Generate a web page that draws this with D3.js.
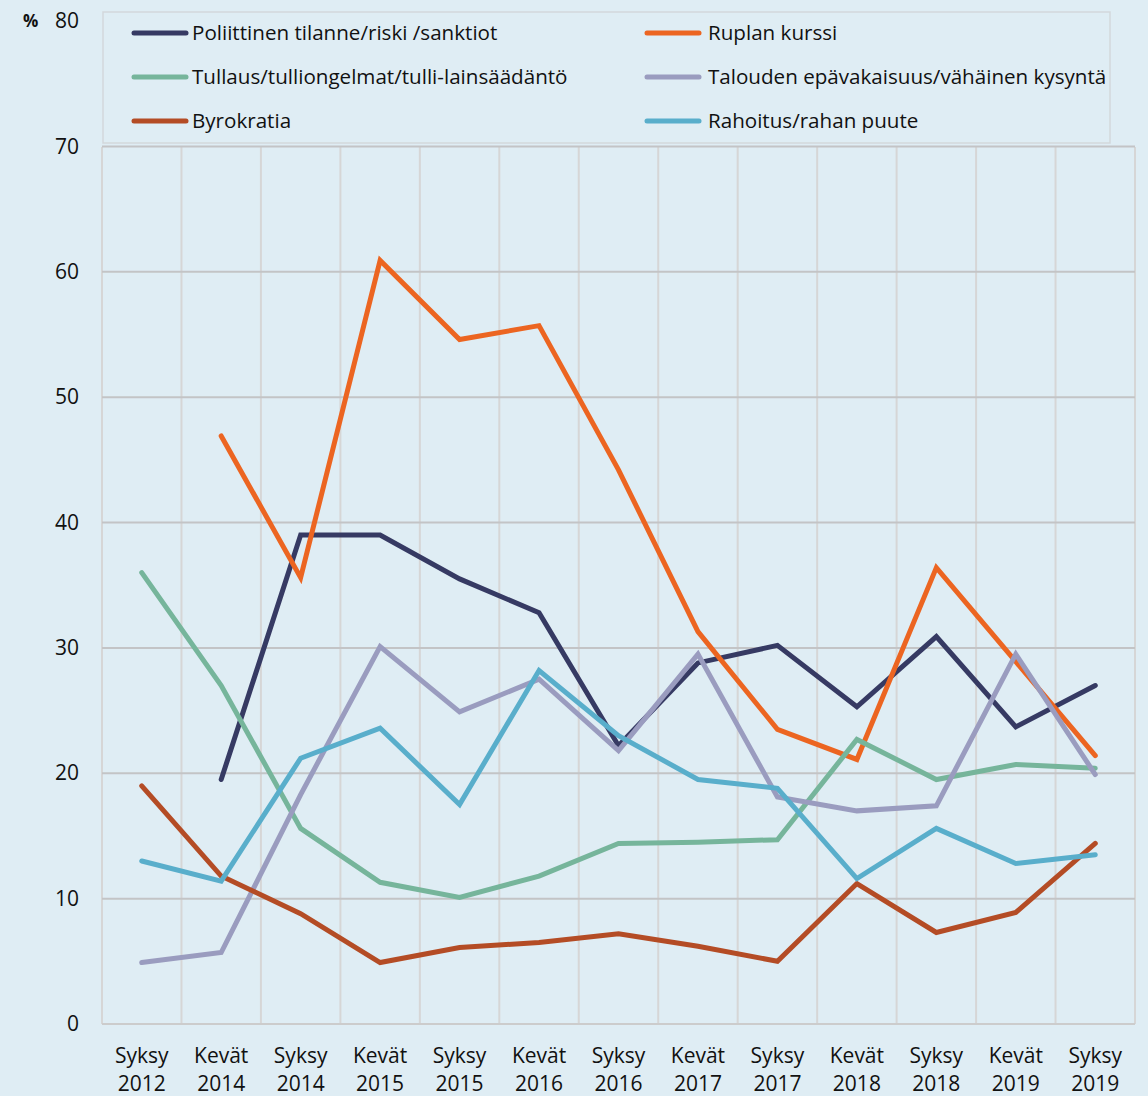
<!DOCTYPE html>
<html><head><meta charset="utf-8">
<script src="https://cdn.jsdelivr.net/npm/d3@7"></script>
<style>
html,body{margin:0;padding:0;background:#dfedf4;}
svg{display:block;font-family:"Open Sans","Noto Sans",sans-serif;}
</style></head>
<body><svg id="c" width="1148" height="1096"></svg>
<script>
const categories = [["Syksy","2012"],["Kevät","2014"],["Syksy","2014"],["Kevät","2015"],["Syksy","2015"],["Kevät","2016"],["Syksy","2016"],["Kevät","2017"],["Syksy","2017"],["Kevät","2018"],["Syksy","2018"],["Kevät","2019"],["Syksy","2019"]];
const yTicks = [0,10,20,30,40,50,60,70,80];
const seriesNames = ["Poliittinen tilanne/riski /sanktiot","Ruplan kurssi","Tullaus/tulliongelmat/tulli-lainsäädäntö","Talouden epävakaisuus/vähäinen kysyntä","Byrokratia","Rahoitus/rahan puute"];
const seriesColors = ["#363a63","#ec6521","#76b59b","#9a9cbf","#b44c25","#59aecb"];
const poliittinen = [null,19.5,39.0,39.0,35.5,32.8,22.2,28.8,30.2,25.3,30.9,23.7,27.0];
const ruplan = [null,46.9,35.6,60.9,54.6,55.7,44.2,31.3,23.5,21.1,36.4,28.9,21.4];
const tullaus = [36.0,27.0,15.6,11.3,10.1,11.8,14.4,14.5,14.7,22.7,19.5,20.7,20.4];
const talouden = [4.9,5.7,18.3,30.1,24.9,27.5,21.8,29.5,18.1,17.0,17.4,29.5,19.9];
const byrokratia = [19.0,11.8,8.8,4.9,6.1,6.5,7.2,6.2,5.0,11.2,7.3,8.9,14.4];
const rahoitus = [13.0,11.4,21.2,23.6,17.5,28.2,23.0,19.5,18.8,11.6,15.6,12.8,13.5];
const seriesValues = [poliittinen,ruplan,tullaus,talouden,byrokratia,rahoitus];

const svg = d3.select("#c");
const L=102, R=1135, T=21, B=1024;
const x = d3.scaleBand().domain(d3.range(categories.length)).range([L,R]);
const y = d3.scaleLinear().domain([0,80]).range([B,T]);

// vertical gridlines
const vg = svg.append("g");
for(let i=0;i<=categories.length;i++){
  const xx = i<categories.length ? x(i) : R;
  vg.append("line").attr("x1",xx).attr("x2",xx).attr("y1",T+126).attr("y2",B).attr("stroke","#d6d6d6").attr("stroke-width",2);
}
// horizontal gridlines
svg.append("g").selectAll("line").data(yTicks.filter(t=>t<=70)).join("line")
  .attr("x1",L).attr("x2",R).attr("y1",d=>y(d)).attr("y2",d=>y(d))
  .attr("stroke",d=>d===0?"#cccccc":"#c3c4c6").attr("stroke-width",2);

// y axis labels
const yAxis = d3.axisLeft(y).tickValues(yTicks).tickSize(0).tickPadding(0);
const ya = svg.append("g").attr("transform",`translate(79,0)`).call(yAxis);
ya.select(".domain").remove();
ya.selectAll("text").attr("font-size",21).attr("fill","#111").attr("font-family","'Open Sans',sans-serif");

svg.append("text").attr("x",23).attr("y",27).attr("font-size",17).attr("font-weight","bold").attr("fill","#111").text("%");

// x labels
const xl = svg.append("g");
categories.forEach((c,i)=>{
  const t = xl.append("text").attr("x",x(i)+x.bandwidth()/2).attr("text-anchor","middle").attr("font-size",21).attr("fill","#111");
  t.append("tspan").attr("x",x(i)+x.bandwidth()/2).attr("y",1063).text(c[0]);
  t.append("tspan").attr("x",x(i)+x.bandwidth()/2).attr("y",1091).text(c[1]);
});

// legend box
svg.append("rect").attr("x",103).attr("y",12).attr("width",1007).attr("height",131)
  .attr("fill","#dfedf4").attr("stroke","#d3d8db").attr("stroke-width",1.5);

// lines
const line = d3.line().defined(d=>d!=null).x((d,i)=>x(i)+x.bandwidth()/2).y(d=>y(d));
seriesValues.forEach((vals,k)=>{
  svg.append("path").datum(vals).attr("d",line).attr("fill","none")
    .attr("stroke",seriesColors[k]).attr("stroke-width",5)
    .attr("stroke-linecap","round").attr("stroke-linejoin","miter");
});

// legend
const lg = svg.append("g");
seriesNames.forEach((n,k)=>{
  const col = k%2, row = Math.floor(k/2);
  const lx = col===0?134:647, ly = 33+row*44;
  lg.append("line").attr("x1",lx).attr("x2",lx+52).attr("y1",ly).attr("y2",ly)
    .attr("stroke",seriesColors[k]).attr("stroke-width",5).attr("stroke-linecap","round");
  lg.append("text").attr("x",col===0?192:708).attr("y",ly+7).attr("font-size",20.6).attr("fill","#111").text(n);
});
</script></body></html>
